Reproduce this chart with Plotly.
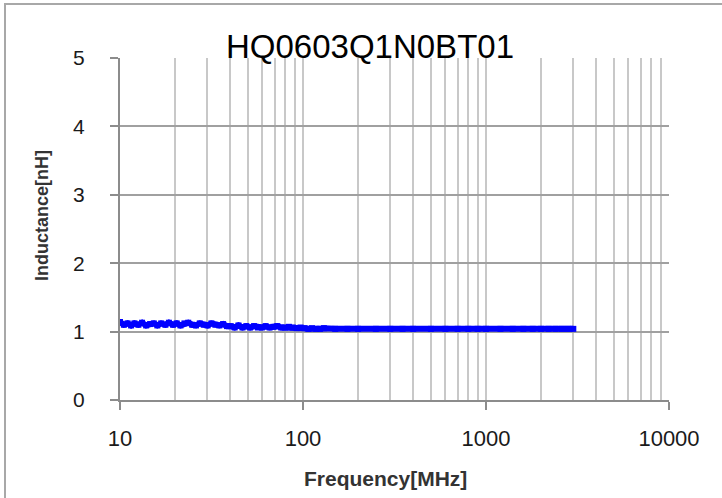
import plotly.graph_objects as go

title_text = "HQ0603Q1N0BT01"
x_title = "Frequency[MHz]"
y_title = "Inductance[nH]"

freq_mhz = [10, 10.5, 11, 11.5, 12, 12.6, 13.2, 13.9, 14.6, 15.3,
            16, 16.8, 17.7, 18.5, 19.5, 20.4, 21.4, 22.5, 23.6, 24.8,
            26, 27.3, 28.7, 30.1, 31.6, 33.2, 34.9, 36.6, 38.4,
            40.3, 42.3, 44.4, 46.7, 49, 51.4, 54, 56.7, 59.6, 62.5,
            65.7, 69, 72.4, 76, 79.8, 83.8, 88, 92.4, 97,
            102, 107, 112, 118, 124, 130, 150, 175, 200, 250,
            300, 350, 400, 500, 600, 700, 800, 900, 1000, 1200,
            1400, 1600, 1800, 2000, 2200, 2400, 2600, 2800, 3000]
inductance_nh = [1.14, 1.10, 1.12, 1.09, 1.12, 1.10, 1.13, 1.09, 1.11, 1.12,
                 1.09, 1.12, 1.10, 1.13, 1.10, 1.12, 1.09, 1.12, 1.13, 1.10,
                 1.09, 1.12, 1.10, 1.09, 1.12, 1.10, 1.09, 1.11, 1.08,
                 1.08, 1.06, 1.09, 1.06, 1.08, 1.06, 1.08, 1.06, 1.06, 1.08,
                 1.06, 1.07, 1.08, 1.06, 1.06, 1.07, 1.06, 1.05, 1.06,
                 1.05, 1.04, 1.05, 1.04, 1.04, 1.05, 1.04, 1.04, 1.04, 1.04,
                 1.04, 1.04, 1.04, 1.04, 1.04, 1.04, 1.04, 1.04, 1.04, 1.04,
                 1.04, 1.04, 1.04, 1.04, 1.04, 1.04, 1.04, 1.04, 1.04]

x_tickvals = [10, 100, 1000, 10000]
x_ticktext = ["10", "100", "1000", "10000"]
y_tickvals = [0, 1, 2, 3, 4, 5]
y_ticktext = ["0", "1", "2", "3", "4", "5"]

fig = go.Figure()
fig.add_trace(go.Scatter(
    x=freq_mhz, y=inductance_nh, mode="lines+markers",
    line=dict(color="#0000ff", width=6),
    marker=dict(color="#0000ff", size=6, symbol="square"),
    hoverinfo="skip", showlegend=False,
))

L, R, T, B = 120, 53, 58, 98
W, H = 722, 498
pw, ph = W - L - R, H - T - B

def px(xp):
    return (xp - L) / pw

def py(yp):
    return (H - B - yp) / ph

fig.update_layout(
    width=W, height=H,
    margin=dict(l=L, r=R, t=T, b=B),
    paper_bgcolor="white", plot_bgcolor="white",
    showlegend=False,
    xaxis=dict(
        type="log", range=[1, 4],
        tickmode="array", tickvals=x_tickvals, ticktext=x_ticktext,
        showgrid=True, gridcolor="#c8c8c8", gridwidth=2,
        minor=dict(dtick="D1", showgrid=True, gridcolor="#c8c8c8", gridwidth=2, ticks=""),
        showline=True, linecolor="#8c8c8c", linewidth=2,
        ticks="outside", ticklen=8, tickcolor="#8c8c8c", tickwidth=2,
        tickfont=dict(family="Liberation Sans", size=22, color="#1a1a1a"),
        ticklabelstandoff=10,
        zeroline=False,
    ),
    yaxis=dict(
        range=[0, 5],
        tickmode="array", tickvals=y_tickvals, ticktext=y_ticktext,
        showgrid=True, gridcolor="#a0a0a0", gridwidth=2,
        showline=True, linecolor="#8c8c8c", linewidth=2,
        ticks="outside", ticklen=8, tickcolor="#8c8c8c", tickwidth=2,
        tickfont=dict(family="Liberation Sans", size=21, color="#1a1a1a"),
        ticklabelstandoff=21,
        zeroline=False,
    ),
    shapes=[dict(
        type="rect", xref="paper", yref="paper",
        x0=px(5), x1=px(760), y0=py(540), y1=py(4),
        line=dict(color="#a8a8a8", width=2), fillcolor="rgba(0,0,0,0)",
        layer="below",
    )],
    annotations=[
        dict(text=title_text, xref="paper", yref="paper",
             x=px(370), y=py(47), xanchor="center", yanchor="middle",
             showarrow=False,
             font=dict(family="Liberation Sans", size=33, color="#000000")),
        dict(text="<b>" + x_title + "</b>", xref="paper", yref="paper",
             x=px(385), y=py(479), xanchor="center", yanchor="middle",
             showarrow=False,
             font=dict(family="Liberation Sans", size=21, color="#333333")),
        dict(text="<b>" + y_title + "</b>", xref="paper", yref="paper",
             x=px(42), y=py(216), xanchor="center", yanchor="middle",
             textangle=-90, showarrow=False,
             font=dict(family="Liberation Sans", size=18, color="#333333")),
    ],
)

fig.write_html("out.html", config={"displayModeBar": False},
               post_script="document.body.style.margin='0';document.body.style.padding='0';")
